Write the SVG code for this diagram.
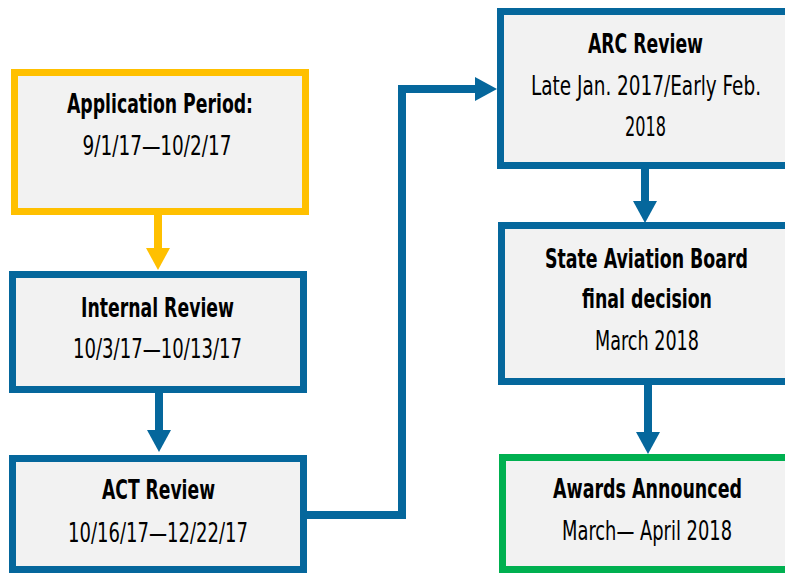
<svg xmlns="http://www.w3.org/2000/svg" width="785" height="574" viewBox="0 0 785 574">
<style>
.box{fill:#F2F2F2;stroke-width:7}
.blue{stroke:#05679C}
.yellow{stroke:#FFC000}
.green{stroke:#00B050}
.t{font-family:"Liberation Sans Narrow","DejaVu Sans Condensed","Liberation Sans",sans-serif;font-size:27px;fill:#000;text-anchor:middle}
.b{font-weight:bold}
.r{font-weight:normal}
.ln{fill:none;stroke-width:8}
</style>
<defs>
<marker id="ay" markerUnits="userSpaceOnUse" markerWidth="22" markerHeight="24" refX="0" refY="12" orient="auto" viewBox="0 0 22 24"><path d="M0,0 L22,12 L0,24 z" fill="#FFC000"/></marker>
<marker id="ab" markerUnits="userSpaceOnUse" markerWidth="22" markerHeight="24" refX="0" refY="12" orient="auto" viewBox="0 0 22 24"><path d="M0,0 L22,12 L0,24 z" fill="#05679C"/></marker>
</defs>
<g id="connectors">
<path class="ln yellow" d="M158 215 V248" marker-end="url(#ay)"/>
<path class="ln blue" d="M159 393 V430" marker-end="url(#ab)"/>
<path class="ln blue" d="M307 515 H402 V89 H475" marker-end="url(#ab)"/>
<path class="ln blue" d="M645 169 V201" marker-end="url(#ab)"/>
<path class="ln blue" d="M648 385 V432" marker-end="url(#ab)"/>
</g>
<g id="application">
<rect class="box yellow" x="14.5" y="72.5" width="291" height="139"/>
<text class="t b" x="160" y="113" textLength="186" lengthAdjust="spacingAndGlyphs">Application Period:</text>
<text class="t r" x="157" y="155" textLength="149" lengthAdjust="spacingAndGlyphs">9/1/17—10/2/17</text>
</g>
<g id="internal">
<rect class="box blue" x="12.5" y="274.5" width="291" height="115"/>
<text class="t b" x="157.5" y="317" textLength="153" lengthAdjust="spacingAndGlyphs">Internal Review</text>
<text class="t r" x="157.5" y="358" textLength="169" lengthAdjust="spacingAndGlyphs">10/3/17—10/13/17</text>
</g>
<g id="act">
<rect class="box blue" x="12.5" y="458.5" width="291" height="111"/>
<text class="t b" x="158.5" y="499" textLength="113" lengthAdjust="spacingAndGlyphs">ACT Review</text>
<text class="t r" x="158" y="542" textLength="180" lengthAdjust="spacingAndGlyphs">10/16/17—12/22/17</text>
</g>
<g id="arc">
<rect class="box blue" x="500.5" y="11.5" width="300" height="154"/>
<text class="t b" x="645.5" y="53" textLength="115" lengthAdjust="spacingAndGlyphs">ARC Review</text>
<text class="t r" x="646" y="95" textLength="230" lengthAdjust="spacingAndGlyphs">Late Jan. 2017/Early Feb.</text>
<text class="t r" x="645.5" y="136" textLength="41" lengthAdjust="spacingAndGlyphs">2018</text>
</g>
<g id="board">
<rect class="box blue" x="501.5" y="225.5" width="300" height="156"/>
<text class="t b" x="646.5" y="268" textLength="203" lengthAdjust="spacingAndGlyphs">State Aviation Board</text>
<text class="t b" x="647" y="308" textLength="130" lengthAdjust="spacingAndGlyphs">final decision</text>
<text class="t r" x="647" y="350" textLength="104" lengthAdjust="spacingAndGlyphs">March 2018</text>
</g>
<g id="awards">
<rect class="box green" x="502.5" y="457.5" width="300" height="112"/>
<text class="t b" x="647.5" y="498" textLength="189" lengthAdjust="spacingAndGlyphs">Awards Announced</text>
<text class="t r" x="647" y="540" textLength="170" lengthAdjust="spacingAndGlyphs">March— April 2018</text>
</g>
</svg>
